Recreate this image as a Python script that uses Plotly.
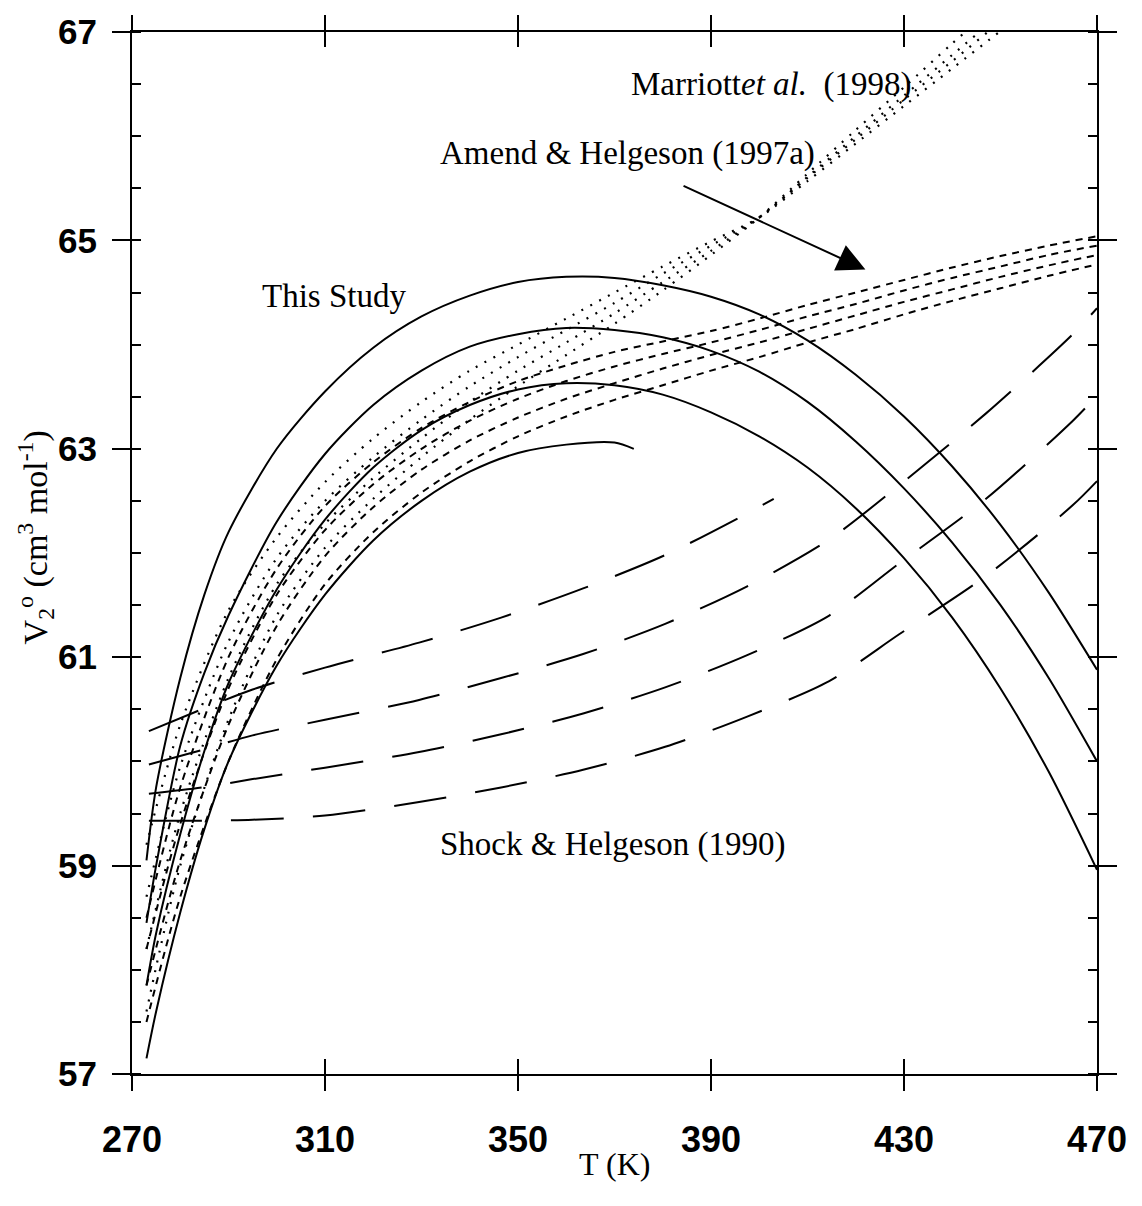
import plotly.graph_objects as go

# ---- axes ----
x_ticks = [270, 310, 350, 390, 430, 470]
y_ticks = [57, 59, 61, 63, 65, 67]

# ---- This Study (solid) ----
ts_T = [
    [273, 275, 280, 285, 290, 300, 310, 320, 330, 340, 350, 360, 370, 380, 390, 400, 410, 420, 430, 440, 450, 460, 470],
    [273, 275, 280, 285, 290, 300, 310, 320, 330, 340, 350, 360, 370, 380, 390, 400, 410, 420, 430, 440, 450, 460, 470],
    [273, 275, 280, 285, 290, 300, 310, 320, 330, 340, 350, 360, 370, 380, 390, 400, 410, 420, 430, 440, 450, 460, 470],
    [273, 275, 280, 285, 290, 300, 310, 320, 330, 340, 350, 360, 370, 374],
]
ts_V = [
    [59.05, 59.75, 60.80, 61.60, 62.20, 63.00, 63.55, 63.97, 64.27, 64.47, 64.60, 64.65, 64.64, 64.57, 64.46, 64.29, 64.04, 63.71, 63.31, 62.83, 62.27, 61.62, 60.88],
    [58.45, 59.00, 60.15, 60.85, 61.40, 62.30, 62.95, 63.42, 63.75, 63.98, 64.10, 64.16, 64.14, 64.07, 63.94, 63.74, 63.45, 63.07, 62.62, 62.10, 61.50, 60.80, 60.00],
    [57.85, 58.35, 59.30, 60.10, 60.75, 61.65, 62.32, 62.82, 63.18, 63.42, 63.57, 63.63, 63.61, 63.52, 63.35, 63.12, 62.82, 62.43, 61.95, 61.38, 60.70, 59.90, 58.96],
    [57.15, 57.60, 58.55, 59.35, 60.00, 60.92, 61.60, 62.12, 62.50, 62.78, 62.96, 63.04, 63.06, 63.00],
]

# ---- Marriott et al. (1998) (dotted) ----
mr_T = [273, 280, 290, 300, 310, 320, 330, 340, 350, 360, 370, 380, 390, 400, 410, 420, 430, 440, 450, 456]
mr_V = [
    [59.20, 60.35, 61.45, 62.15, 62.68, 63.10, 63.45, 63.75, 64.00, 64.25, 64.50, 64.75, 64.99, 65.22, 65.57, 65.93, 66.29, 66.65, 67.01, 67.23],
    [58.70, 59.95, 61.15, 61.95, 62.50, 62.92, 63.28, 63.60, 63.88, 64.14, 64.40, 64.68, 64.95, 65.22, 65.61, 66.00, 66.39, 66.78, 67.17, 67.40],
    [58.20, 59.50, 60.80, 61.70, 62.28, 62.72, 63.10, 63.45, 63.75, 64.02, 64.30, 64.60, 64.90, 65.22, 65.60, 65.97, 66.35, 66.72, 67.10, 67.32],
    [57.60, 59.00, 60.40, 61.40, 62.05, 62.52, 62.92, 63.28, 63.60, 63.90, 64.20, 64.52, 64.86, 65.22, 65.64, 66.06, 66.47, 66.89, 67.30, 67.55],
]

# ---- Amend & Helgeson (1997a) (short dashes) ----
ah_T = [273, 280, 290, 300, 310, 320, 330, 340, 350, 360, 370, 380, 390, 400, 410, 420, 430, 440, 450, 460, 470]
ah_V = [
    [58.50, 59.75, 61.00, 61.85, 62.45, 62.87, 63.20, 63.45, 63.65, 63.80, 63.93, 64.03, 64.13, 64.25, 64.38, 64.50, 64.62, 64.74, 64.85, 64.95, 65.04],
    [58.20, 59.40, 60.70, 61.60, 62.22, 62.66, 63.00, 63.27, 63.48, 63.65, 63.79, 63.91, 64.02, 64.14, 64.27, 64.39, 64.52, 64.64, 64.75, 64.86, 64.95],
    [57.85, 59.05, 60.35, 61.30, 61.97, 62.44, 62.80, 63.08, 63.30, 63.48, 63.63, 63.77, 63.90, 64.02, 64.15, 64.28, 64.41, 64.53, 64.65, 64.76, 64.86],
    [57.50, 58.70, 60.00, 60.98, 61.70, 62.20, 62.58, 62.88, 63.12, 63.31, 63.47, 63.61, 63.75, 63.88, 64.02, 64.15, 64.29, 64.42, 64.54, 64.66, 64.77],
]

# ---- Shock & Helgeson (1990) (long dashes) ----
sh_T = [
    [273.5, 284.5, 295, 310, 329.5, 346.5, 363.5, 380.5, 397.5, 403],
    [273.5, 284.5, 295, 310, 329.5, 346.5, 363.5, 380.5, 397.5, 414.5, 429, 447, 465, 470],
    [273.5, 284.5, 295, 310, 329.5, 346.5, 363.5, 380.5, 397.5, 414.5, 429, 447, 465, 470],
    [273.5, 284.5, 295, 310, 329.5, 346.5, 363.5, 380.5, 397.5, 414.5, 429, 447, 465, 470],
]
sh_V = [
    [60.29, 60.50, 60.69, 60.90, 61.14, 61.38, 61.66, 61.98, 62.38, 62.52],
    [59.97, 60.11, 60.25, 60.40, 60.59, 60.80, 61.03, 61.32, 61.68, 62.13, 62.65, 63.34, 64.10, 64.35],
    [59.69, 59.75, 59.83, 59.94, 60.09, 60.26, 60.46, 60.71, 61.02, 61.40, 61.90, 62.52, 63.27, 63.51],
    [59.43, 59.43, 59.44, 59.48, 59.61, 59.75, 59.92, 60.14, 60.43, 60.77, 61.22, 61.78, 62.46, 62.69],
]

INK = "black"
fig = go.Figure()

for T, V in zip(ts_T, ts_V):
    fig.add_trace(go.Scatter(x=T, y=V, mode="lines", line=dict(color=INK, width=2, shape="spline", smoothing=0.8),
                             showlegend=False, hoverinfo="skip"))
for V in mr_V:
    fig.add_trace(go.Scatter(x=mr_T, y=V, mode="lines", line=dict(color=INK, width=2.2, dash="2px,8px", shape="spline", smoothing=0.8),
                             showlegend=False, hoverinfo="skip"))
for V in ah_V:
    fig.add_trace(go.Scatter(x=ah_T, y=V, mode="lines", line=dict(color=INK, width=2, dash="7px,6px", shape="spline", smoothing=0.8),
                             showlegend=False, hoverinfo="skip"))
for T, V in zip(sh_T, sh_V):
    fig.add_trace(go.Scatter(x=T, y=V, mode="lines", line=dict(color=INK, width=2, dash="53px,29px", shape="spline", smoothing=0.8),
                             showlegend=False, hoverinfo="skip"))

# companion axis that carries the inward half of the crossing x ticks
fig.add_trace(go.Scatter(x=[None], y=[None], xaxis="x2", yaxis="y", showlegend=False, hoverinfo="skip"))

label_font = dict(family="Liberation Serif", size=33, color=INK)
fig.add_annotation(x=373.0, y=66.50, xanchor="left", yanchor="middle", showarrow=False,
                   text="Marriott<i>et al.</i>\u00a0 (1998)", font=label_font)
fig.add_annotation(x=333.5, y=65.83, xanchor="left", yanchor="middle", showarrow=False,
                   text="Amend &amp; Helgeson (1997a)", font=label_font)
fig.add_annotation(x=296.5, y=64.47, xanchor="left", yanchor="middle", showarrow=False,
                   text="This Study", font=label_font)
fig.add_annotation(x=333.5, y=59.20, xanchor="left", yanchor="middle", showarrow=False,
                   text="Shock &amp; Helgeson (1990)", font=label_font)
# pointer to the Amend & Helgeson band
fig.add_annotation(x=422.0, y=64.72, ax=384.0, ay=65.53, axref="x", ayref="y", xref="x", yref="y",
                   text="", showarrow=True, arrowhead=2, arrowsize=2.8, arrowwidth=2, arrowcolor=INK)

# axis titles
title_font = dict(family="Liberation Serif", size=32, color=INK)
fig.add_annotation(xref="paper", yref="paper", x=0.5, y=-0.0866, xanchor="center", yanchor="middle",
                   showarrow=False, text="T (K)", font=title_font)
fig.add_annotation(xref="paper", yref="paper", x=-0.1005, y=0.515, xanchor="center", yanchor="middle",
                   showarrow=False, textangle=-90,
                   text="V<sub>2</sub><sup>o</sup> (cm<sup>3</sup> mol<sup>-1</sup>)",
                   font=dict(family="Liberation Serif", size=34, color=INK))

tick_font = dict(family="Liberation Sans", size=36, color=INK, weight="bold")
fig.update_layout(
    width=1142, height=1206,
    margin=dict(l=132, r=45, t=23, b=132),
    paper_bgcolor="white", plot_bgcolor="white",
    xaxis=dict(range=[270, 470], tickvals=x_ticks, ticks="outside", ticklen=15, tickwidth=2, tickcolor=INK,
               showline=True, linewidth=2, linecolor=INK, mirror="ticks", showgrid=False, zeroline=False,
               tickfont=tick_font, ticklabelstandoff=18),
    xaxis2=dict(range=[270, 470], overlaying="x", anchor="y", tickvals=x_ticks, ticks="inside", ticklen=15,
                tickwidth=2, tickcolor=INK, mirror="ticks", showticklabels=False, showgrid=False,
                zeroline=False, showline=False),
    yaxis=dict(range=[57, 67], tickvals=y_ticks, ticks="outside", ticklen=18, tickwidth=2, tickcolor=INK,
               minor=dict(dtick=0.5, tick0=57, ticks="inside", ticklen=9, tickwidth=1.5, tickcolor=INK, showgrid=False),
               showline=True, linewidth=2, linecolor=INK, mirror="ticks", showgrid=False, zeroline=False,
               tickfont=dict(family="Liberation Sans", size=35, color=INK, weight="bold"), ticklabelstandoff=8),
)

fig.write_html("out.html")
